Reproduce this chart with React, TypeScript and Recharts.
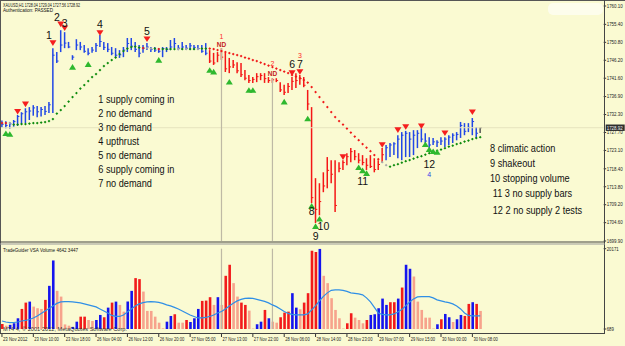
import React from "react";
import { Bar, Cell, ComposedChart, Line, ReferenceDot, ReferenceLine, XAxis, YAxis } from "recharts";

// H1 bars, index 0 = 23 Nov 2012 first bar
const highs = [
  1730.8, 1730.6, 1730.4, 1730.9, 1732.2, 1732.9, 1733.9, 1734.2, 1734.7, 1734.5,
  1734.2, 1734.5, 1735.5, 1749.3, 1748.3, 1753.9, 1753.4, 1750.9, 1747.5, 1751.6,
  1750.9, 1750.1, 1749.3, 1749.6, 1750.6, 1752.7, 1750.9, 1750.6, 1749.6, 1749.3,
  1748.8, 1749.6, 1751.9, 1751.9, 1750.9, 1750.1, 1750.1, 1750.6, 1749.6, 1749.6,
  1749.3, 1749.6, 1749.6, 1751.4, 1751.9, 1750.1, 1750.9, 1750.1, 1750.6, 1750.1,
  1750.1, 1750.1, 1750.6, 1748.8, 1748.1, 1748.3, 1749.3, 1748.1, 1746.8, 1746.3,
  1745.7, 1745.5, 1743.7, 1742.4, 1741.9, 1742.9, 1742.9, 1742.9, 1741.9, 1741.6,
  1741.6, 1740.6, 1739.9, 1740.4, 1741.9, 1742.9, 1742.4, 1741.9, 1738.6, 1734.2,
  1716.0, 1714.7, 1717.5, 1721.4, 1720.6, 1720.6, 1720.1, 1720.6, 1722.4, 1723.7,
  1723.2, 1722.4, 1721.9, 1721.1, 1721.9, 1721.1, 1720.6, 1723.7, 1724.5, 1725.0,
  1725.2, 1727.0, 1727.8, 1728.1, 1727.8, 1728.3, 1728.3, 1728.8, 1727.5, 1726.5,
  1726.3, 1725.7, 1726.5, 1726.5, 1727.0, 1727.5, 1727.8, 1730.4, 1730.1, 1730.1,
  1731.4, 1729.1, 1729.04,
];
const lows = [
  1729.0, 1728.8, 1728.7, 1729.2, 1729.4, 1729.8, 1730.1, 1730.9, 1732.0, 1731.6,
  1731.8, 1732.2, 1732.7, 1732.7, 1745.5, 1748.3, 1749.3, 1749.3, 1746.3, 1748.8,
  1748.8, 1748.1, 1747.5, 1748.1, 1748.3, 1749.6, 1748.8, 1748.3, 1747.5, 1746.8,
  1746.8, 1747.0, 1748.3, 1748.8, 1748.3, 1747.0, 1748.1, 1748.8, 1748.3, 1748.3,
  1748.1, 1747.0, 1748.3, 1748.8, 1749.3, 1748.8, 1748.8, 1748.8, 1748.8, 1748.8,
  1748.8, 1748.1, 1747.5, 1745.5, 1745.0, 1745.7, 1746.3, 1743.2, 1742.9, 1744.2,
  1742.9, 1741.9, 1741.1, 1740.4, 1740.4, 1740.6, 1741.1, 1740.4, 1740.4, 1740.4,
  1740.6, 1738.1, 1737.3, 1737.8, 1738.6, 1739.1, 1739.9, 1739.3, 1733.4, 1709.6,
  1704.5, 1706.5, 1712.4, 1713.4, 1714.7, 1707.3, 1717.5, 1718.1, 1719.3, 1720.1,
  1720.6, 1719.8, 1719.3, 1718.1, 1718.6, 1717.5, 1718.1, 1720.1, 1720.6, 1721.4,
  1721.9, 1721.1, 1720.6, 1721.4, 1721.4, 1721.9, 1723.7, 1725.2, 1725.0, 1723.7,
  1724.5, 1724.0, 1724.5, 1724.0, 1724.5, 1725.0, 1725.7, 1726.3, 1727.0, 1727.8,
  1727.0, 1726.3, 1727.56,
];
const closes = [
  1729.8, 1729.5, 1729.9, 1730.5, 1731.8, 1732.5, 1733.0, 1733.2, 1734.0, 1733.0,
  1733.6, 1733.1, 1734.8, 1747.5, 1746.0, 1750.1, 1750.6, 1749.6, 1747.0, 1750.1,
  1749.6, 1748.5, 1748.0, 1748.8, 1750.0, 1751.0, 1749.5, 1749.0, 1748.0, 1747.5,
  1747.6, 1748.8, 1750.5, 1749.8, 1749.0, 1748.0, 1749.3, 1749.6, 1749.0, 1748.8,
  1748.5, 1749.2, 1749.0, 1749.6, 1750.5, 1749.3, 1749.6, 1749.3, 1749.9, 1749.5,
  1749.2, 1748.5, 1748.0, 1746.0, 1745.5, 1747.5, 1747.0, 1744.0, 1744.5, 1745.0,
  1743.5, 1742.5, 1741.6, 1741.0, 1741.3, 1742.0, 1742.3, 1741.5, 1741.0, 1741.2,
  1741.0, 1738.6, 1738.0, 1739.5, 1740.8, 1741.0, 1741.5, 1739.8, 1735.0, 1711.0,
  1708.0, 1710.0, 1714.0, 1718.0, 1717.0, 1709.0, 1718.5, 1720.0, 1721.5, 1722.8,
  1721.5, 1720.6, 1720.0, 1719.3, 1719.0, 1718.2, 1719.5, 1722.0, 1723.8, 1724.5,
  1724.8, 1726.0, 1727.0, 1727.5, 1726.0, 1727.0, 1727.5, 1726.0, 1725.5, 1724.5,
  1725.3, 1725.2, 1725.5, 1726.0, 1726.5, 1727.0, 1727.2, 1729.5, 1728.0, 1729.0,
  1730.5, 1727.5, 1728.92,
];
// b = up (blue), r = down (red), k = current bar
const barTones = [
  "bbbbbbbbbb", "bbbbbbbbbb", "bbbbbbbbbb", "bbbbbbbbbb", "bbbbbbbbbb",
  "bbbrrrrrrr", "rrrrrrrrrr", "rrrrrrrrrr", "rrrrrrrrrr", "rrrrrrrrbb",
  "bbbbbbbbbb", "bbbbbbbbbb", "bbk",
].join("");

// trailing stop dots
const trail = [
  1730.1, 1730.1, 1730.1, 1729.72, 1729.72, 1729.85, 1729.85, 1729.97, 1730.1, 1730.1,
  1730.23, 1730.36, 1730.61, 1731.13, 1732.54, 1733.44, 1734.46, 1735.62, 1736.77, 1737.79,
  1738.95, 1739.85, 1740.87, 1741.9, 1742.67, 1743.69, 1744.72, 1745.49, 1746.26, 1746.9,
  1747.79, 1748.56, 1749.2, 1749.59, 1749.72, 1749.46, 1749.33, 1749.33, 1749.2, 1749.2,
  1749.08, 1749.08, 1749.08, 1749.08, 1749.08, 1749.08, 1749.08, 1749.08, 1749.08, 1749.08,
  1749.08, 1749.2, 1749.2, 1749.2, 1749.08, 1748.82, 1748.56, 1748.31, 1748.05, 1747.79,
  1747.54, 1747.28, 1746.9, 1746.64, 1746.26, 1746.0, 1745.62, 1745.23, 1744.85, 1744.46,
  1744.08, 1743.69, 1743.31, 1742.92, 1742.41, 1742.02, 1741.64, 1741.13, 1740.49, 1739.33,
  1738.05, 1736.77, 1735.49, 1734.2, 1732.92, 1731.64, 1730.61, 1729.72, 1728.69, 1727.67,
  1726.64, 1725.74, 1724.72, 1723.82, 1722.92, 1721.9, 1720.87, 1720.1, 1719.33, 1718.95,
  1719.33, 1719.59, 1719.97, 1720.36, 1720.62, 1721.0, 1721.38, 1721.64, 1722.02, 1722.41,
  1722.67, 1723.05, 1723.31, 1723.69, 1724.08, 1724.33, 1724.72, 1724.97, 1725.36, 1725.62,
  1726.0, 1726.26, 1726.51,
];
const trailTones = [
  "rrsggggggg", "gggggggggg", "gggggggggg", "ggggggrssg", "rggggsgsgg",
  "sggrrrrrrr", "rrrrrrrrrr", "rrrrrrrrrr", "rrrrrrrrrr", "rrrrrrrssg",
  "gggggggggg", "gggggggggg", "ggg",
].join("");

// signal triangles [bar index, price]
const downSignals = [
  [4, 1733.0], [6, 1734.9], [13, 1750.6], [15, 1755.4], [16, 1754.4], [25, 1753.2],
  [37, 1751.6], [74, 1742.9], [76, 1743.2], [87, 1721.4], [97, 1724.5], [101, 1728.3],
  [103, 1729.1], [107, 1729.3], [113, 1727.5], [120, 1732.9],
];
const upSignals = [
  [1, 1727.5], [2, 1727.3], [18, 1744.5], [22, 1745.2], [40, 1746.3], [53, 1743.7],
  [54, 1743.3], [58, 1740.7], [63, 1738.6], [64, 1738.6], [72, 1735.6], [78, 1731.3],
  [79, 1708.9], [80, 1703.7], [81, 1705.6], [91, 1718.8], [92, 1718.0], [93, 1717.3],
  [108, 1724.7], [109, 1723.4], [110, 1722.9], [111, 1722.7],
];

// volume sub-window
const volumes = [
  1900, 1500, 1700, 2077, 3290, 5559, 7093, 7337, 6119, 5729,
  5559, 7751, 11160, 17320, 9942, 8554, 1800, 1500, 1200, 2467,
  3684, 3684, 2880, 2637, 2880, 4098, 3538, 5876, 7093, 7337,
  6533, 4902, 7337, 9942, 13034, 12790, 9772, 5072, 5072, 3684,
  2223, 860, 2467, 3855, 4269, 2223, 2223, 2880, 2394, 3290,
  5559, 7507, 7580, 8408, 6533, 8408, 6533, 13595, 16273, 11817,
  8554, 7093, 6533, 5145, 800, 1834, 2467, 5316, 3290, 2467,
  2223, 3538, 4658, 4902, 9382, 5876, 5476, 7093, 9382, 19682,
  19365, 20171, 13595, 11817, 8165, 5316, 3290, 800, 2077, 4512,
  3441, 2880, 2077, 2880, 4098, 4269, 5729, 8067, 6533, 7190,
  7190, 8067, 10746, 16273, 15299, 13424, 7337, 5316, 3441, 3441,
  800, 1834, 3051, 4341, 3538, 2394, 3051, 4098, 3855, 6776,
  7190, 6776, 5072,
];
const volTones = [
  "rsbbbrrbss", "srbbssssbb", "rrssbbrbrb", "ssbbrrssss", "ssbbrssrbb",
  "brrrsbsrrs", "srrssbbrbs", "srrrbbsrrr", "rbssssssrr", "sssrbbbbbr",
  "rbrbbsssss", "sbrbbsbbrr", "brs",
].join("");
const volAverage = [
  2637, 2394, 2223, 2272, 2394, 2637, 2759, 3002, 3368, 3855,
  4463, 5072, 5681, 6290, 6898, 7263, 7337, 7337, 7263, 7142,
  7020, 6777, 6533, 6290, 6046, 5559, 5072, 4585, 3976, 3733,
  3733, 4098, 4829, 5559, 6290, 6777, 7093, 7263, 7337, 7263,
  7142, 6898, 6533, 6290, 5924, 5559, 5072, 4585, 4098, 3733,
  3368, 3368, 3489, 3733, 4098, 4585, 4950, 5559, 6290, 6947,
  7507, 7872, 8116, 8164, 8116, 7872, 7629, 7385, 7020, 6533,
  6119, 5559, 4950, 4463, 4220, 4098, 4098, 4098, 4341, 5316,
  6290, 7507, 8603, 9455, 10064, 10186, 10186, 10064, 9820, 9455,
  9333, 9211, 8968, 8238, 7263, 5924, 4585, 4220, 4098, 4098,
  4341, 4829, 5437, 6290, 7263, 7994, 8481, 8554, 8554, 8554,
  8238, 7751, 7507, 7263, 7093, 6777, 6290, 5559, 4585, 3976,
  3855, 3855, 3855,
];

const priceTicks = [1760.1, 1755.4, 1750.8, 1746.2, 1741.6, 1736.9, 1732.3, 1727.7, 1723.1, 1718.4, 1713.8, 1709.2, 1704.6, 1699.9];
const lastPrice = 1728.92;
const volTicks = [689, 20171];
const timeTickBars = [0, 8, 16, 24, 32, 40, 48, 56, 64, 72, 80, 88, 96, 104, 112, 120];
const timeLabels = [
  "23 Nov 2012", "23 Nov 10:00", "23 Nov 18:00", "26 Nov 04:00", "26 Nov 12:00", "26 Nov 20:00",
  "27 Nov 05:00", "27 Nov 13:00", "27 Nov 22:00", "28 Nov 06:00", "28 Nov 14:00", "28 Nov 23:00",
  "29 Nov 07:00", "29 Nov 15:00", "30 Nov 00:00", "30 Nov 08:00",
];
const markedBars = [56, 69];

const bigLabels = [
  { text: "1", i: 12, p: 1752.8 }, { text: "2", i: 14, p: 1757.4 }, { text: "3", i: 16, p: 1755.7 },
  { text: "4", i: 25, p: 1755.6 }, { text: "5", i: 37, p: 1753.6 }, { text: "6", i: 74, p: 1745.3 },
  { text: "7", i: 76, p: 1745.2 }, { text: "8", i: 79, p: 1707.5 }, { text: "9", i: 80, p: 1701.2 },
  { text: "10", i: 82, p: 1703.7 }, { text: "11", i: 92, p: 1715.2 }, { text: "12", i: 109, p: 1719.6 },
];
const smallLabels = [
  { text: "1", i: 56, p: 1752.2, kind: "num" }, { text: "ND", i: 56, p: 1750.2, kind: "nd" },
  { text: "2", i: 69, p: 1745.4, kind: "num" }, { text: "ND", i: 69, p: 1742.8, kind: "nd" },
  { text: "3", i: 76, p: 1747.4, kind: "num" }, { text: "4", i: 109, p: 1717.0, kind: "blue" },
];
const notesLeft = ["1 supply coming in", "2 no demand", "3 no demand", "4 upthrust", "5 no demand", "6 supply coming in", "7 no demand"];
const notesRight = ["8 climatic action", "9 shakeout", "10 stopping volume", "11 3 no supply bars", "12 2 no supply 2 tests"];

const SLOTS = 154;
const BG = "#FAFAD2";
const FONT = "'Liberation Sans', Arial, sans-serif";
const barColor: Record<string, string> = { b: "#2147E6", r: "#F51616", k: "#555555" };
const dotColor: Record<string, string> = { g: "#0B8A0B", r: "#F01818", s: "#A8A8A8" };
const volColor: Record<string, string> = { b: "#1414EE", r: "#F21B1B", s: "#F7A38C" };

const rows = Array.from({ length: SLOTS }, (_, i) => {
  const has = i < highs.length;
  return {
    i,
    range: has ? [lows[i], highs[i]] : null,
    high: has ? highs[i] : null,
    low: has ? lows[i] : null,
    close: has ? closes[i] : null,
    tone: barTones[i],
    trail: has ? trail[i] : null,
    trailTone: trailTones[i],
    down: null as number | null,
    up: null as number | null,
    vol: has ? volumes[i] : null,
    volTone: volTones[i] || "s",
    ma: has ? volAverage[i] : null,
  };
});
downSignals.forEach(([i, p]) => (rows[i].down = p));
upSignals.forEach(([i, p]) => (rows[i].up = p));

const PriceBar = (props: any) => {
  const { x, y, width, height, payload } = props;
  if (!payload || payload.high == null || !isFinite(y)) return <g />;
  const cx = x + width / 2;
  const span = payload.high - payload.low;
  const cy = span > 0 ? y + ((payload.high - payload.close) / span) * height : y;
  const c = barColor[payload.tone];
  return (
    <g>
      <line x1={cx} x2={cx} y1={y} y2={y + Math.max(height, 1)} stroke={c} strokeWidth={1.5} />
      <line x1={cx} x2={cx + 1.8} y1={cy} y2={cy} stroke={c} strokeWidth={1} />
    </g>
  );
};

const TrailDot = (p: any) => {
  const { cx, cy, payload, index } = p;
  if (cy == null || !payload || payload.trail == null) return <g key={index} />;
  const s = 1.4;
  return <path key={index} d={`M${cx - s},${cy}L${cx},${cy - s}L${cx + s},${cy}L${cx},${cy + s}Z`} fill={dotColor[payload.trailTone]} />;
};

const DownTri = (p: any) => {
  const { cx, cy, payload, index } = p;
  if (cy == null || !payload || payload.down == null) return <g key={index} />;
  return <path key={index} d={`M${cx - 3.5},${cy - 2.8}L${cx + 3.5},${cy - 2.8}L${cx},${cy + 2.8}Z`} fill="#F51E1E" />;
};

const UpTri = (p: any) => {
  const { cx, cy, payload, index } = p;
  if (cy == null || !payload || payload.up == null) return <g key={index} />;
  return <path key={index} d={`M${cx - 3.5},${cy + 2.8}L${cx + 3.5},${cy + 2.8}L${cx},${cy - 2.8}Z`} fill="#2EB82E" />;
};

const PriceTick = ({ x, y, payload }: any) => {
  if (payload.value === lastPrice) {
    return (
      <g>
        <rect x={x + 2} y={y - 3.2} width={19} height={6.4} fill="#2E2E2E" />
        <text x={x + 3} y={y} dy={1.8} fontSize={5.2} fill="#F4F4F4" fontFamily={FONT} textLength={16} lengthAdjust="spacingAndGlyphs">
          {payload.value.toFixed(2)}
        </text>
      </g>
    );
  }
  return (
    <g>
      <line x1={x} x2={x + 2.5} y1={y} y2={y} stroke="#333" />
      <text x={x + 3} y={y} dy={1.8} fontSize={5.2} fill="#222" fontFamily={FONT} textLength={16} lengthAdjust="spacingAndGlyphs">
        {payload.value.toFixed(2)}
      </text>
    </g>
  );
};

const VolTick = ({ x, y, payload }: any) => {
  const s = String(payload.value);
  return (
    <g>
      <line x1={x} x2={x + 2.5} y1={y} y2={y} stroke="#333" />
      <text x={x + 3} y={y} dy={1.8} fontSize={5.2} fill="#222" fontFamily={FONT} textLength={s.length * 2.4} lengthAdjust="spacingAndGlyphs">
        {s}
      </text>
    </g>
  );
};

const TimeTick = ({ x, y, payload }: any) => {
  const k = timeTickBars.indexOf(payload.value);
  return (
    <g>
      <line x1={x} x2={x} y1={y + 5} y2={y + 8} stroke="#333" />
      <text x={x + 1} y={y + 10} fontSize={5.6} fill="#222" fontFamily={FONT} dominantBaseline="central" textLength={24.5} lengthAdjust="spacingAndGlyphs">
        {timeLabels[k]}
      </text>
    </g>
  );
};

const smallStyle: Record<string, { fill: string; size: number; weight: number }> = {
  num: { fill: "#FF2A2A", size: 7, weight: 400 },
  nd: { fill: "#C42020", size: 6.5, weight: 700 },
  blue: { fill: "#2E3FE8", size: 7, weight: 400 },
};

export default function App() {
  const axisW = 21.3;
  return (
    <div style={{ position: "absolute", left: 0, top: 0, width: 625, height: 346, background: BG, fontFamily: FONT, overflow: "hidden" }}>
      <div style={{ position: "absolute", left: 0, top: 0 }}>
        <ComposedChart width={625} height={243} data={rows} margin={{ top: 0, right: 0, bottom: 2, left: 0 }}>
          <XAxis dataKey="i" hide />
          <YAxis
            orientation="right"
            width={axisW}
            domain={[1699.9, 1761.64]}
            ticks={[...priceTicks, lastPrice]}
            interval={0}
            allowDataOverflow
            axisLine={false}
            tickLine={false}
            tickSize={0}
            tickMargin={0}
            tick={(p: any) => <PriceTick {...p} />}
          />
          <ReferenceLine y={lastPrice} stroke="#E6E3BE" strokeWidth={1} />
          {markedBars.map((b) => (
            <ReferenceLine key={b} segment={[{ x: b, y: highs[b] }, { x: b, y: 1699.9 }]} stroke="#BEB9A5" strokeWidth={1.2} />
          ))}
          <Bar dataKey="range" shape={PriceBar} isAnimationActive={false} />
          <Line dataKey="trail" stroke="none" strokeWidth={0} dot={TrailDot} activeDot={false} isAnimationActive={false} />
          <Line dataKey="down" stroke="none" strokeWidth={0} dot={DownTri} activeDot={false} isAnimationActive={false} />
          <Line dataKey="up" stroke="none" strokeWidth={0} dot={UpTri} activeDot={false} isAnimationActive={false} />
          {bigLabels.map((l, k) => (
            <ReferenceDot
              key={`b${k}`}
              x={l.i}
              y={l.p}
              r={1}
              shape={(p: any) => (
                <text x={p.cx} y={p.cy} textAnchor="middle" dominantBaseline="central" fontSize={10.5} fill="#111" fontFamily={FONT}>
                  {l.text}
                </text>
              )}
            />
          ))}
          {smallLabels.map((l, k) => {
            const st = smallStyle[l.kind];
            return (
              <ReferenceDot
                key={`s${k}`}
                x={l.i}
                y={l.p}
                r={1}
                shape={(p: any) => (
                  <text x={p.cx} y={p.cy} textAnchor="middle" dominantBaseline="central" fontSize={st.size} fontWeight={st.weight} fill={st.fill} fontFamily={FONT}>
                    {l.text}
                  </text>
                )}
              />
            );
          })}
        </ComposedChart>
      </div>

      <div style={{ position: "absolute", left: 0, top: 243 }}>
        <ComposedChart width={625} height={103} data={rows} margin={{ top: 5.7, right: 0, bottom: 3, left: 0 }}>
          <XAxis
            dataKey="i"
            ticks={timeTickBars}
            interval={0}
            height={14}
            axisLine={false}
            tickLine={false}
            tickSize={0}
            tickMargin={0}
            tick={(p: any) => <TimeTick {...p} />}
          />
          <YAxis
            orientation="right"
            width={axisW}
            domain={[689, 20171]}
            ticks={volTicks}
            interval={0}
            allowDataOverflow
            axisLine={false}
            tickLine={false}
            tickSize={0}
            tickMargin={0}
            tick={(p: any) => <VolTick {...p} />}
          />
          {markedBars.map((b) => (
            <ReferenceLine key={b} x={b} stroke="#BEB9A5" strokeWidth={1.2} />
          ))}
          <Bar dataKey="vol" barSize={2.6} isAnimationActive={false}>
            {rows.map((r) => (
              <Cell key={r.i} fill={volColor[r.volTone]} />
            ))}
          </Bar>
          <Line dataKey="ma" stroke="#2F8FE6" strokeWidth={1.2} dot={false} activeDot={false} isAnimationActive={false} />
        </ComposedChart>
      </div>

      <svg width={625} height={346} style={{ position: "absolute", left: 0, top: 0, pointerEvents: "none", fontFamily: FONT }}>
        <rect x={548} y={3} width={55} height={12} rx={5} fill="#FDFDEC" />
        <line x1={0} x2={625} y1={0.5} y2={0.5} stroke="#555" />
        <line x1={0.5} x2={0.5} y1={0} y2={334} stroke="#555" />
        <line x1={604.5} x2={604.5} y1={0} y2={334} stroke="#444" />
        <line x1={0} x2={605} y1={242} y2={242} stroke="#444" />
        <line x1={0} x2={605} y1={244} y2={244} stroke="#999" />
        <line x1={0} x2={605} y1={333.5} y2={333.5} stroke="#444" />

        <text x={3} y={4.8} fontSize={5.2} fill="#111" dominantBaseline="central" textLength={77} lengthAdjust="spacingAndGlyphs">
          XAUUSD,H1  1728.04 1729.04 1727.56 1728.92
        </text>
        <text x={3} y={10.2} fontSize={4.6} fill="#111" dominantBaseline="central">
          Authentication: PASSED
        </text>
        <text x={3} y={250} fontSize={5.3} fill="#111" dominantBaseline="central" textLength={75} lengthAdjust="spacingAndGlyphs">
          TradeGuider VSA Volume 4642 3447
        </text>
        <text x={3} y={329.3} fontSize={5.3} fill="#333" dominantBaseline="central" textLength={124} lengthAdjust="spacingAndGlyphs">
          MT4 4, © 2001-2012, MetaQuotes Software Corp.
        </text>

        {notesLeft.map((t, k) => (
          <text key={t + k} transform={`translate(98.3 ${99.3 + k * 14}) scale(0.92 1)`} fontSize={10} fill="#111" dominantBaseline="central">
            {t}
          </text>
        ))}
        {notesRight.map((t, k) => (
          <text
            key={t}
            transform={`translate(${k >= 3 ? 492.7 : 490} ${[148.3, 163.7, 178.3, 193.3, 210][k]}) scale(0.92 1)`}
            fontSize={10}
            fill="#111"
            dominantBaseline="central"
          >
            {t}
          </text>
        ))}
      </svg>
    </div>
  );
}
